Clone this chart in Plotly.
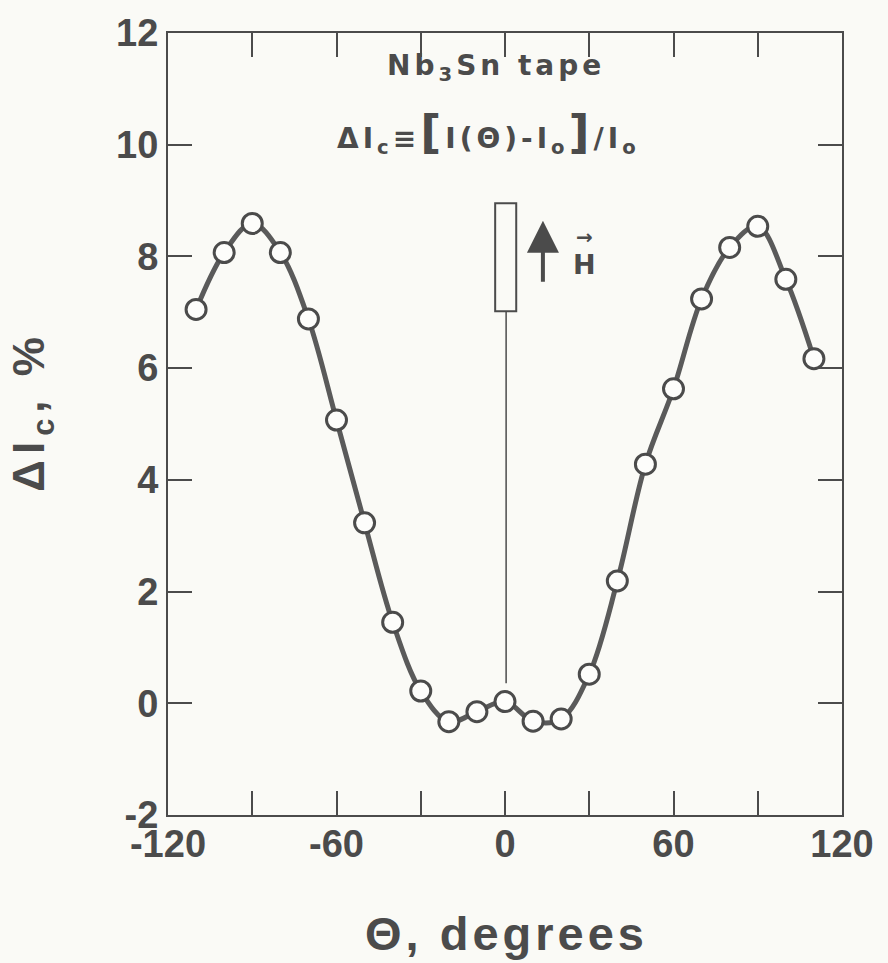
import plotly.graph_objects as go

# Angle between field and tape normal (degrees) and critical-current change (%)
theta = [-110, -100, -90, -80, -70, -60, -50, -40, -30, -20, -10, 0,
         10, 20, 30, 40, 50, 60, 70, 80, 90, 100, 110]
delta_ic = [7.05, 8.07, 8.59, 8.07, 6.88, 5.07, 3.23, 1.45, 0.22, -0.33, -0.15, 0.03,
            -0.32, -0.28, 0.52, 2.19, 4.28, 5.63, 7.24, 8.16, 8.54, 7.59, 6.17]

x_tick_vals = [-120, -90, -60, -30, 0, 30, 60, 90, 120]
x_tick_text = ["-120", "", "-60", "", "0", "", "60", "", "120"]
y_tick_vals = [-2, 0, 2, 4, 6, 8, 10, 12]
y_tick_text = ["-2", "0", "2", "4", "6", "8", "10", "12"]

# Sketch of the tape (edge-on) and the applied-field direction
tape_x = [-3.5, 4.0]
tape_y = [7.02, 8.95]
guide_x = 0.4
guide_y = [0.36, 7.02]
field_x = 13.5
field_y = [7.52, 8.64]

INK = "#4b4b4b"
BG = "#fafaf6"
TICK_FONT = dict(family="Liberation Sans", size=38, color=INK, weight="bold")


def spaced(text, px):
    return f"<span style='letter-spacing:{px}px'>{text}</span>"


fig = go.Figure()

fig.add_trace(go.Scatter(
    x=theta, y=delta_ic,
    mode="lines+markers",
    line=dict(color="#5a5a5a", width=5, shape="spline", smoothing=1.0),
    marker=dict(symbol="circle", size=20, color="#fdfdfb",
                line=dict(color=INK, width=3)),
    showlegend=False,
))

# tape outline and centre guide line
fig.add_shape(type="rect", xref="x", yref="y",
              x0=tape_x[0], x1=tape_x[1], y0=tape_y[0], y1=tape_y[1],
              line=dict(color=INK, width=2), fillcolor=BG, layer="above")
fig.add_shape(type="line", xref="x", yref="y",
              x0=guide_x, x1=guide_x, y0=guide_y[0], y1=guide_y[1],
              line=dict(color=INK, width=1.5))

# field arrow
fig.add_annotation(x=field_x, y=field_y[1], ax=field_x, ay=field_y[0],
                   xref="x", yref="y", axref="x", ayref="y",
                   text="", showarrow=True, arrowhead=2, arrowsize=1.6,
                   arrowwidth=4, arrowcolor=INK, standoff=0)
fig.add_annotation(x=28.2, y=7.85, xref="x", yref="y", text="<b>H</b>",
                   showarrow=False,
                   font=dict(family="DejaVu Sans", size=27, color=INK))
fig.add_annotation(x=28.2, y=8.35, xref="x", yref="y", text="<b>→</b>",
                   showarrow=False,
                   font=dict(family="DejaVu Sans", size=20, color=INK))

ANN_FONT = dict(family="DejaVu Sans", size=28, color=INK, weight="bold")
fig.add_annotation(x=-3.2, y=11.39, xref="x", yref="y", showarrow=False,
                   text=spaced("Nb<sub>3</sub>Sn tape", 4), font=ANN_FONT)
big = "<span style='font-size:46px'>{}</span>"
fig.add_annotation(
    x=-5.7, y=10.22, xref="x", yref="y", showarrow=False,
    text=spaced("ΔI<sub>c</sub>≡" + big.format("[") + "I(Θ)-I<sub>o</sub>"
                + big.format("]") + "/I<sub>o</sub>", 4),
    font=ANN_FONT)

# axis titles
fig.add_annotation(x=-0.2018, y=0.517, xref="paper", yref="paper",
                   xanchor="center", yanchor="middle",
                   showarrow=False, textangle=-90,
                   text=spaced("ΔI<sub>c</sub>, %", 6),
                   font=dict(family="Liberation Sans", size=44, color=INK,
                             weight="bold"))
fig.add_annotation(x=0.502, y=-0.151, xref="paper", yref="paper",
                   xanchor="center", yanchor="middle", showarrow=False,
                   text=spaced("Θ, degrees", 4),
                   font=dict(family="Liberation Sans", size=47, color=INK,
                             weight="bold"))

axis_common = dict(
    showgrid=False, zeroline=False,
    showline=True, linecolor=INK, linewidth=2, mirror="ticks",
    ticks="inside", ticklen=24, tickwidth=2, tickcolor=INK,
    tickfont=TICK_FONT,
)
fig.update_xaxes(range=[-120, 120], tickmode="array",
                 tickvals=x_tick_vals, ticktext=x_tick_text,
                 ticklabelstandoff=-6, **axis_common)
fig.update_yaxes(range=[-2, 12], tickmode="array",
                 tickvals=y_tick_vals, ticktext=y_tick_text, **axis_common)

fig.update_layout(
    width=888, height=963,
    margin=dict(l=168, r=46, t=28, b=148),
    paper_bgcolor=BG, plot_bgcolor=BG,
)

fig.write_html("out.html")
